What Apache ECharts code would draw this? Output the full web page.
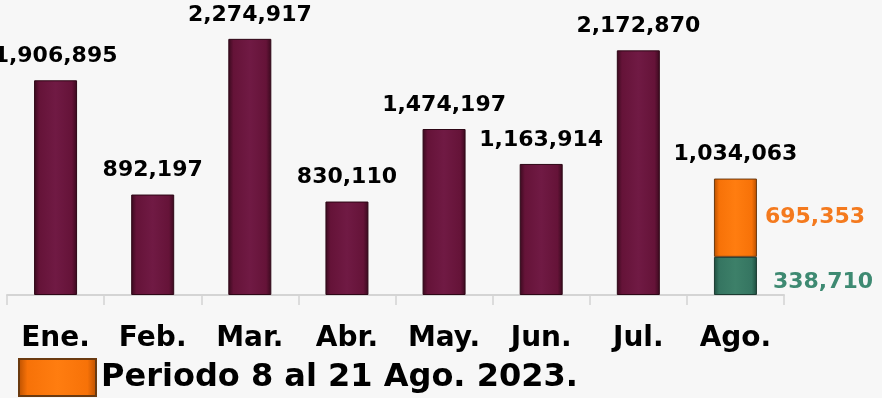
<!DOCTYPE html>
<html><head><meta charset="utf-8">
<script src="https://cdn.jsdelivr.net/npm/echarts@6/dist/echarts.min.js"></script>
<style>html,body{margin:0;padding:0;background:#f7f7f7}#c{width:882px;height:398px}</style>
</head><body><div id="c"></div>
<script>
var categories = ['Ene.', 'Feb.', 'Mar.', 'Abr.', 'May.', 'Jun.', 'Jul.', 'Ago.'];
var monthly = [1906895, 892197, 2274917, 830110, 1474197, 1163914, 2172870, 1034063];
var partGreen = ['-', '-', '-', '-', '-', '-', '-', 338710];
var partOrange = ['-', '-', '-', '-', '-', '-', '-', 695353];
var legendName = 'Periodo 8 al 21 Ago. 2023.';

function grad(edge, mid, light) {
  return new echarts.graphic.LinearGradient(0, 0, 1, 0, [
    {offset: 0, color: edge}, {offset: 0.12, color: mid}, {offset: 0.5, color: light},
    {offset: 0.88, color: mid}, {offset: 1, color: edge}
  ]);
}
var maroon = grad('#3a0a1e', '#651338', '#701a44');
var fmt = function (v) { return Number(v).toLocaleString('en-US'); };
var font = 'DejaVu Sans';

var chart = echarts.init(document.getElementById('c'));
chart.setOption({
  backgroundColor: '#f7f7f7',
  animation: false,
  grid: {left: 7, right: 98, top: 0, bottom: 103},
  legend: {
    data: [{name: legendName, icon: 'rect'}], left: 13, top: 353, itemWidth: 77, itemHeight: 37, itemGap: 6,
    textStyle: {fontFamily: font, fontWeight: 'bold', fontSize: 32, color: '#000'}
  },
  xAxis: {
    type: 'category', data: categories,
    axisLine: {lineStyle: {color: '#d4d4d4', width: 2}},
    axisTick: {show: true, length: 10, lineStyle: {color: '#d4d4d4', width: 1.5}},
    axisLabel: {margin: 30, fontFamily: font, fontWeight: 'bold', fontSize: 28, color: '#000'}
  },
  yAxis: {type: 'value', min: 0, max: 2620000, show: false, splitLine: {show: false}},
  series: [
    {
      name: 'Mensual', type: 'bar', barWidth: 43, barGap: '-100%',
      data: monthly.map(function (v, i) {
        return i === 7 ? {value: v, itemStyle: {color: 'rgba(0,0,0,0)', borderWidth: 0}} : v;
      }),
      itemStyle: {color: maroon, borderColor: '#2e0716', borderWidth: 1},
      label: {show: true, position: 'top', distance: 13, formatter: function (p) { return fmt(p.value); },
        fontFamily: font, fontWeight: 'bold', fontSize: 22, color: '#000'}
    },
    {
      name: 'Verde', type: 'bar', stack: 'ago', barWidth: 43, barGap: '-100%', data: partGreen,
      itemStyle: {color: grad('#1f4c3e', '#357561', '#3d8069'), borderColor: '#1c3b31', borderWidth: 1},
      label: {show: true, position: 'right', distance: 16, offset: [0, 6], formatter: function (p) { return fmt(p.value); },
        fontFamily: font, fontWeight: 'bold', fontSize: 22, color: '#3e8a72'}
    },
    {
      name: legendName, type: 'bar', stack: 'ago', barWidth: 43, barGap: '-100%', data: partOrange,
      itemStyle: {color: grad('#b84f00', '#f77208', '#ff7d10'), borderColor: '#6a3a10', borderWidth: 1},
      label: {show: true, position: 'right', distance: 8, formatter: function (p) { return fmt(p.value); },
        fontFamily: font, fontWeight: 'bold', fontSize: 22, color: '#f47a1e'}
    }
  ]
});
</script></body></html>
